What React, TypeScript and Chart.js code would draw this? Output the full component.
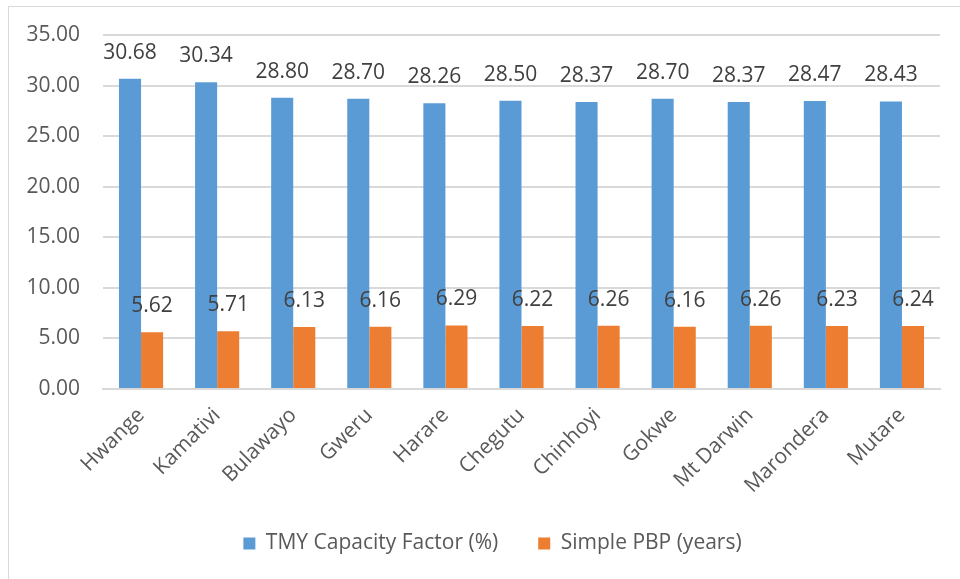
import React, { useEffect, useRef } from "react";
import { Chart, registerables } from "chart.js";

Chart.register(...registerables);

const categories = [
  "Hwange",
  "Kamativi",
  "Bulawayo",
  "Gweru",
  "Harare",
  "Chegutu",
  "Chinhoyi",
  "Gokwe",
  "Mt Darwin",
  "Marondera",
  "Mutare",
];
const capacityFactor = [30.68, 30.34, 28.8, 28.7, 28.26, 28.5, 28.37, 28.7, 28.37, 28.47, 28.43];
const simplePBP = [5.62, 5.71, 6.13, 6.16, 6.29, 6.22, 6.26, 6.16, 6.26, 6.23, 6.24];
const seriesNames = ["TMY Capacity Factor (%)", "Simple PBP (years)"];
const yTicks = [0, 5, 10, 15, 20, 25, 30, 35];

const FONT = "'Open Sans', sans-serif";
const FS = 21;

const dataLabels = {
  id: "dataLabels",
  afterDatasetsDraw(chart: any) {
    const ctx = chart.ctx;
    ctx.save();
    ctx.font = `${FS}px ${FONT}`;
    ctx.fillStyle = "#404040";
    ctx.textAlign = "center";
    ctx.textBaseline = "middle";
    chart.data.datasets.forEach((ds: any, di: number) => {
      const meta = chart.getDatasetMeta(di);
      meta.data.forEach((el: any, i: number) => {
        ctx.fillText(Number(ds.data[i]).toFixed(2), el.x, el.y - 26);
      });
    });
    ctx.restore();
  },
};

// shift the legend so it is centred like the reference (not on the canvas centre)
const legendShift = {
  id: "legendShift",
  afterLayout(chart: any) {
    const lg = chart.legend;
    if (lg) {
      lg.left += 18;
      lg.right += 18;
    }
  },
};

export default function App() {
  const ref = useRef<HTMLCanvasElement | null>(null);
  useEffect(() => {
    if (!ref.current) return;
    const chart = new Chart(ref.current, {
      type: "bar",
      data: {
        labels: categories,
        datasets: [
          {
            label: seriesNames[0],
            data: capacityFactor,
            backgroundColor: "#5B9BD5",
            barPercentage: 1,
            categoryPercentage: 0.58,
          },
          {
            label: seriesNames[1],
            data: simplePBP,
            backgroundColor: "#ED7D31",
            barPercentage: 1,
            categoryPercentage: 0.58,
          },
        ],
      },
      options: {
        animation: false,
        responsive: false,
        devicePixelRatio: 1,
        layout: { padding: { left: 0, right: 20, top: 28, bottom: 15 } },
        plugins: {
          legend: {
            position: "bottom",
            labels: {
              boxWidth: 12,
              boxHeight: 12,
              padding: 40,
              color: "#595959",
              font: { family: FONT, size: FS },
            },
          },
          tooltip: { enabled: false },
        },
        scales: {
          x: {
            grid: { display: false },
            border: { display: true, color: "#D9D9D9", width: 2 },
            ticks: {
              autoSkip: false,
              minRotation: 45,
              maxRotation: 45,
              padding: 6,
              color: "#595959",
              font: { family: FONT, size: FS },
            },
            afterFit(scale: any) {
              scale.height = 104;
            },
          },
          y: {
            min: 0,
            max: 35,
            afterBuildTicks(scale: any) {
              scale.ticks = yTicks.map((v) => ({ value: v }));
            },
            grid: {
              color: "#D9D9D9",
              lineWidth: 2,
              drawTicks: true,
              tickLength: 23,
              tickColor: "rgba(0,0,0,0)",
            },
            border: { display: false },
            ticks: {
              padding: 0,
              color: "#595959",
              font: { family: FONT, size: FS },
              callback: (v: any) => Number(v).toFixed(2),
            },
            afterFit(scale: any) {
              scale.width = 94;
            },
          },
        },
      },
      plugins: [dataLabels, legendShift],
    });
    return () => chart.destroy();
  }, []);

  return (
    <div
      style={{
        position: "absolute",
        left: 8,
        top: 6,
        width: 1000,
        height: 620,
        border: "1px solid #D9D9D9",
        background: "#fff",
      }}
    >
      <canvas
        ref={ref}
        width={951}
        height={572}
        style={{ position: "absolute", left: 0, top: 0, width: 951, height: 572 }}
      />
    </div>
  );
}
